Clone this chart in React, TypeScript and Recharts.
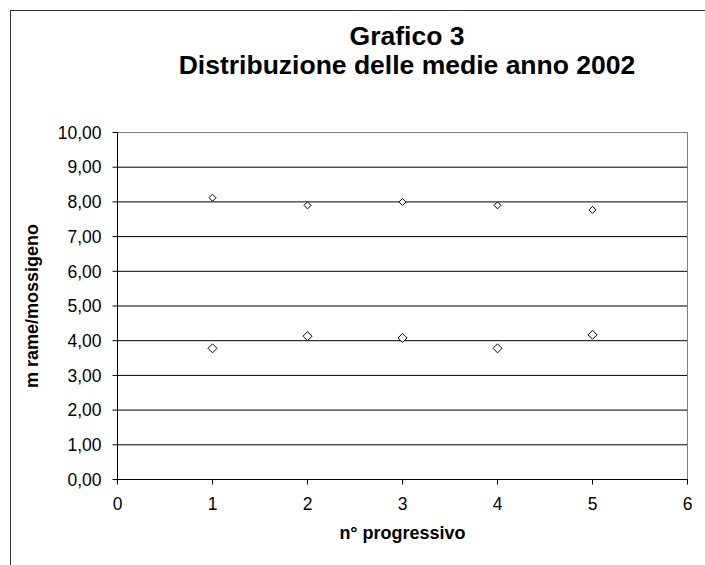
import React from 'react'
import {
  ScatterChart,
  Scatter,
  XAxis,
  YAxis,
  CartesianGrid,
  ReferenceLine,
} from 'recharts'

// n° progressivo
const progressivi = [1, 2, 3, 4, 5]
// medie 2002, gruppo alto e gruppo basso
const medieAlte = [8.12, 7.9, 8.0, 7.9, 7.77]
const medieBasse = [3.78, 4.13, 4.08, 3.78, 4.17]

const xTicks = [0, 1, 2, 3, 4, 5, 6]
const yTicks = [0, 1, 2, 3, 4, 5, 6, 7, 8, 9, 10]

const datiAlti = progressivi.map((x, i) => ({ x, y: medieAlte[i] }))
const datiBassi = progressivi.map((x, i) => ({ x, y: medieBasse[i] }))

const FONT = '"Liberation Sans", Arial, sans-serif'

const fmt = (v: number) => v.toFixed(2).replace('.', ',')

function diamond(half: number) {
  return (props: any) => {
    const { cx, cy } = props
    if (cx == null || cy == null) return <g />
    return (
      <polygon
        points={`${cx},${cy - half} ${cx + half},${cy} ${cx},${cy + half} ${cx - half},${cy}`}
        fill="#fff"
        stroke="#000"
        strokeWidth={1}
      />
    )
  }
}

export default function App() {
  return (
    <div style={{ position: 'absolute', left: 0, top: 0, width: 705, height: 565, overflow: 'hidden', background: '#fff' }}>
      <div
        style={{
          position: 'absolute',
          left: 10,
          top: 10,
          width: 800,
          height: 700,
          border: '1px solid #333',
          boxSizing: 'border-box',
        }}
      />
      <div
        style={{
          position: 'absolute',
          left: 0,
          width: 814,
          top: 21.5,
          textAlign: 'center',
          fontFamily: FONT,
          fontWeight: 'bold',
          fontSize: 26.5,
          lineHeight: '29.5px',
          color: '#000',
        }}
      >
        <div>Grafico 3</div>
        <div>Distribuzione delle medie anno 2002</div>
      </div>
      <div style={{ position: 'absolute', left: 0, top: 0 }}>
        <ScatterChart
          width={705}
          height={565}
          margin={{ top: 132.5, right: 17.5, bottom: 55.5, left: 57.5 }}
        >
          <CartesianGrid horizontal vertical={false} stroke="#000" strokeOpacity={1} />
          <XAxis
            type="number"
            dataKey="x"
            domain={[0, 6]}
            ticks={xTicks}
            interval={0}
            height={30}
            stroke="#000"
            tickSize={5}
            tickMargin={13}
            tick={{ fill: '#000', fontSize: 17.5, fontFamily: FONT }}
            label={{
              value: 'n° progressivo',
              position: 'bottom',
              offset: 17,
              style: { fill: '#000', fontSize: 18, fontWeight: 'bold', fontFamily: FONT },
            }}
          />
          <YAxis
            type="number"
            dataKey="y"
            domain={[0, 10]}
            ticks={yTicks}
            interval={0}
            width={60}
            stroke="#000"
            tickSize={5}
            tickMargin={11}
            tickFormatter={fmt}
            tick={{ fill: '#000', fontSize: 17.5, fontFamily: FONT }}
            label={{
              value: 'm rame/mossigeno',
              angle: -90,
              position: 'insideLeft',
              offset: -26,
              style: { textAnchor: 'middle', fill: '#000', fontSize: 18, fontWeight: 'bold', fontFamily: FONT },
            }}
          />
          <ReferenceLine y={10} stroke="#808080" />
          <ReferenceLine x={6} stroke="#808080" />
          <Scatter data={datiAlti} shape={diamond(3.5)} isAnimationActive={false} />
          <Scatter data={datiBassi} shape={diamond(4.5)} isAnimationActive={false} />
        </ScatterChart>
      </div>
    </div>
  )
}
